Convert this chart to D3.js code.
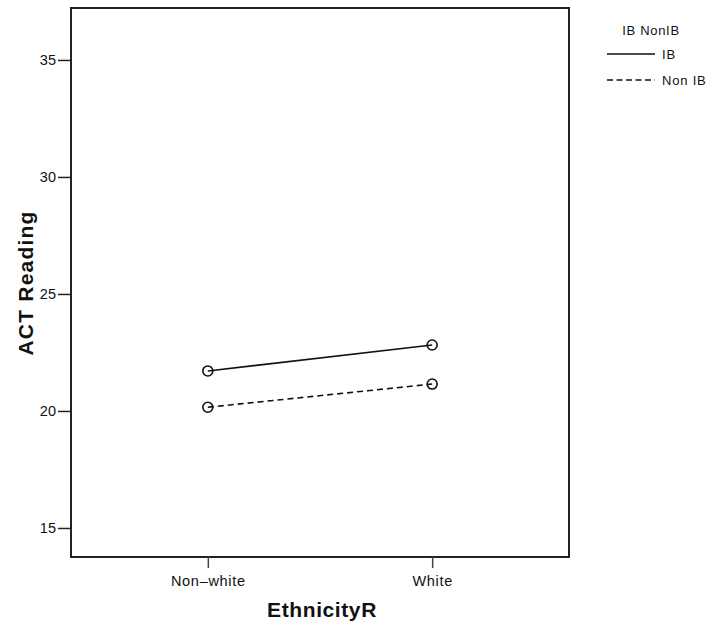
<!DOCTYPE html>
<html><head><meta charset="utf-8">
<script src="https://cdn.jsdelivr.net/npm/d3@7"></script>
<style>body{margin:0;background:#fff}svg{display:block}text{font-family:"Liberation Sans",Arial,sans-serif;fill:#111}</style>
</head><body>
<svg id="c" width="714" height="626"></svg>
<script>
const categories = ["Non\u2013white", "White"];
const seriesNames = ["IB", "Non IB"];
const ibValues = [21.71, 22.82];
const nonIbValues = [20.16, 21.15];
const yTicks = [15, 20, 25, 30, 35];
const yDomain = [13.76, 37.22];

const svg = d3.select("#c");
const L = 71, T = 8, R = 569, B = 557;
const x = d3.scalePoint().domain(categories).range([L, R]).padding(0.61);
const y = d3.scaleLinear().domain(yDomain).range([B, T]);

// frame
svg.append("rect").attr("x", L).attr("y", T).attr("width", R - L).attr("height", B - T)
  .attr("fill", "none").attr("stroke", "#222").attr("stroke-width", 2);

// y axis
const ya = svg.append("g").attr("transform", `translate(${L},0)`)
  .call(d3.axisLeft(y).tickValues(yTicks).tickSize(13).tickPadding(2));
ya.select(".domain").remove();
ya.selectAll("line").attr("stroke", "#222").attr("stroke-width", 1.5);
ya.selectAll("text").attr("font-size", 14.5).attr("fill", "#111")
  .style("font-family", "Liberation Sans, Arial, sans-serif");

// x axis
const xa = svg.append("g").attr("transform", `translate(0,${B})`)
  .call(d3.axisBottom(x).tickSize(11).tickPadding(8));
xa.select(".domain").remove();
xa.selectAll("line").attr("stroke", "#444").attr("stroke-width", 1.5);
xa.selectAll("text").attr("font-size", 14.5).attr("fill", "#111").attr("letter-spacing", 0.7)
  .style("font-family", "Liberation Sans, Arial, sans-serif");

// axis titles
svg.append("text").attr("x", 322).attr("y", 617).attr("text-anchor", "middle")
  .attr("font-size", 21).attr("font-weight", "bold").attr("letter-spacing", 0.6).text("EthnicityR");
svg.append("text").attr("transform", "translate(33,283) rotate(-90)").attr("text-anchor", "middle")
  .attr("font-size", 21).attr("font-weight", "bold").attr("letter-spacing", 1.2).text("ACT Reading");

// series
const series = [
  {name: seriesNames[0], values: ibValues, dash: null},
  {name: seriesNames[1], values: nonIbValues, dash: "6,4"}
];
const line = d3.line().x((d, i) => x(categories[i])).y(d => y(d));
series.forEach(s => {
  svg.append("path").datum(s.values).attr("d", line).attr("fill", "none")
    .attr("stroke", "#111").attr("stroke-width", 1.6)
    .attr("stroke-dasharray", s.dash);
  svg.selectAll(null).data(s.values).enter().append("circle")
    .attr("cx", (d, i) => x(categories[i])).attr("cy", d => y(d)).attr("r", 5)
    .attr("fill", "none").attr("stroke", "#111").attr("stroke-width", 1.6);
});

// legend
svg.append("text").attr("x", 651).attr("y", 35).attr("text-anchor", "middle")
  .attr("font-size", 13).attr("letter-spacing", 0.7).text("IB NonIB");
series.forEach((s, i) => {
  const ly = 54 + i * 26;
  svg.append("line").attr("x1", 607).attr("x2", 655).attr("y1", ly).attr("y2", ly)
    .attr("stroke", "#111").attr("stroke-width", 1.3).attr("stroke-dasharray", s.dash ? "6,3.5" : null);
  svg.append("text").attr("x", 662).attr("y", ly + 5)
    .attr("font-size", 13).attr("letter-spacing", 0.8).text(s.name);
});
</script>
</body></html>
